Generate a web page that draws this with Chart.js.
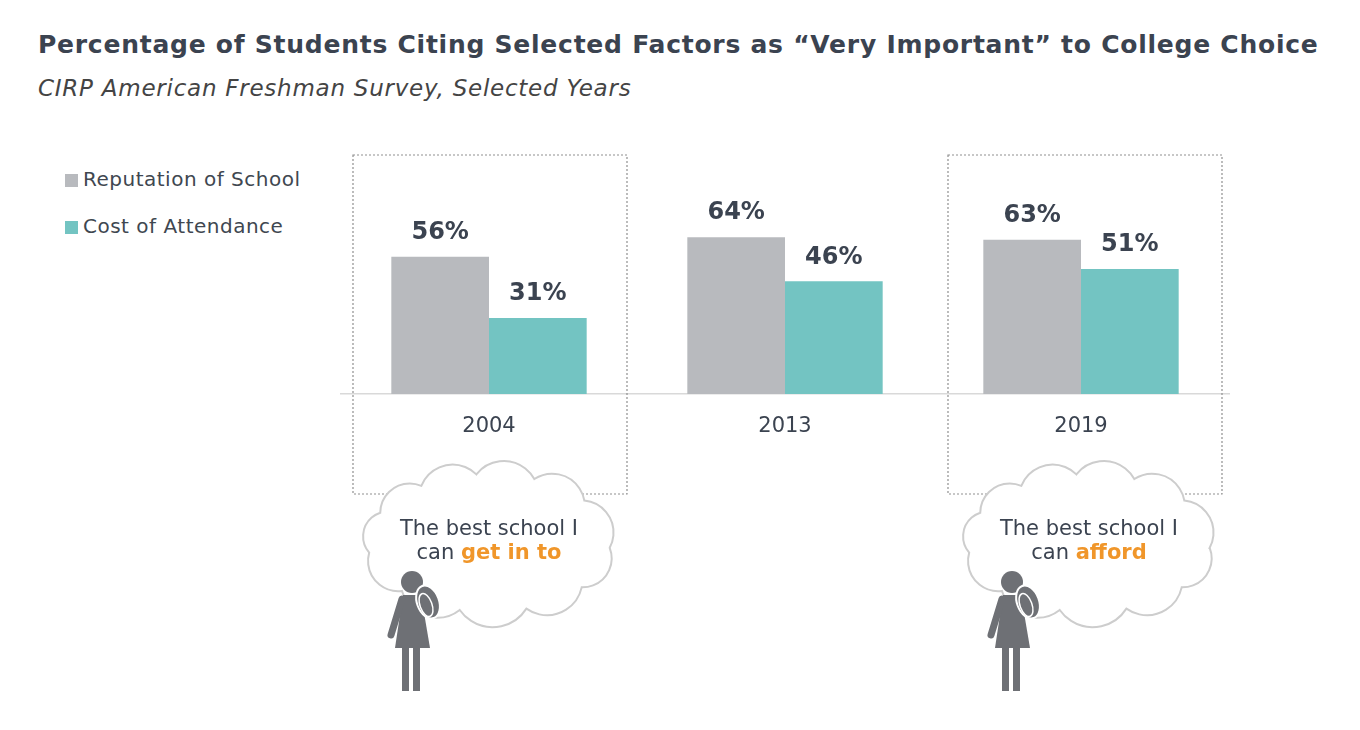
<!DOCTYPE html>
<html>
<head>
<meta charset="utf-8">
<script src="https://cdn.jsdelivr.net/npm/chart.js@4"></script>
<style>
  html, body { margin: 0; padding: 0; background: #fff; }
  body { width: 1360px; height: 730px; position: relative; overflow: hidden; font-family: "DejaVu Sans", Verdana, sans-serif; color: #3b4350; }
  .title { position: absolute; left: 38px; top: 30px; font-size: 25px; letter-spacing: 0.75px; font-weight: bold; white-space: nowrap; }
  .subtitle { position: absolute; left: 38px; top: 75px; font-size: 23px; letter-spacing: 0.75px; font-style: italic; color: #444; white-space: nowrap; }
  .legend { position: absolute; left: 65px; top: 167px; font-size: 20px; letter-spacing: 0.5px; color: #404750; }
  .legend div { height: 47px; display: flex; align-items: flex-start; }
  .legend span.sw { width: 13px; height: 13px; margin-top: 7px; margin-right: 5px; display: inline-block; }
  canvas { position: absolute; left: 0; top: 0; }
</style>
</head>
<body>
<div class="title">Percentage of Students Citing Selected Factors as “Very Important” to College Choice</div>
<div class="subtitle">CIRP American Freshman Survey, Selected Years</div>
<div class="legend" id="legend"></div>
<canvas id="chart" width="1360" height="730"></canvas>
<script>
// data
const years = ['2004', '2013', '2019'];
const reputation = [56, 64, 63];
const cost = [31, 46, 51];
const seriesNames = ['Reputation of School', 'Cost of Attendance'];
const seriesColors = ['#b8babe', '#73c4c2'];

// thought bubbles (index into years)
const bubbleIndex = [0, 2];
const bubbleLine1 = ['The best school I', 'The best school I'];
const bubbleLine2 = ['get in to', 'afford'];

const dark = '#3b4350';
const orange = '#f0962a';
const personGray = '#6e7075';

// legend
const legend = document.getElementById('legend');
seriesNames.forEach((name, i) => {
    const row = document.createElement('div');
    row.innerHTML = '<span class="sw" style="background:' + seriesColors[i] + '"></span>' + name;
    legend.appendChild(row);
});

// value labels on top of bars
const valueLabels = {
    id: 'valueLabels',
    afterDatasetsDraw(chart) {
        const ctx = chart.ctx;
        ctx.save();
        ctx.font = 'bold 24px "DejaVu Sans"';
        ctx.fillStyle = dark;
        ctx.textAlign = 'center';
        ctx.textBaseline = 'bottom';
        chart.data.datasets.forEach((ds, i) => {
            chart.getDatasetMeta(i).data.forEach((bar, j) => {
                ctx.fillText(ds.data[j] + '%', bar.x, bar.y - 12);
            });
        });
        ctx.restore();
    }
};

// dotted boxes behind the highlighted years
const dottedBoxes = {
    id: 'dottedBoxes',
    beforeDatasetsDraw(chart) {
        const ctx = chart.ctx;
        const x = chart.scales.x;
        ctx.save();
        ctx.strokeStyle = '#8f8f8f';
        ctx.lineWidth = 1.2;
        ctx.setLineDash([2, 2]);
        bubbleIndex.forEach((idx, k) => {
            const cx = x.getPixelForValue(idx) + (k === 0 ? 1 : 4);
            ctx.strokeRect(cx - 137, 155, 274, 339);
        });
        ctx.restore();
    }
};

// scalloped outline: shallow arcs between points on an ellipse
function cloudPath(ctx, cx, cy, rx, ry) {
    const angles = [4, 40, 72, 104, 136, 172, 206, 236, 264, 292, 322];
    const pts = angles.map(a => {
        const r = a * Math.PI / 180;
        return [cx + rx * Math.cos(r), cy + ry * Math.sin(r)];
    });
    ctx.beginPath();
    for (let i = 0; i < pts.length; i++) {
        const p = pts[i];
        const q = pts[(i + 1) % pts.length];
        const mx = (p[0] + q[0]) / 2;
        const my = (p[1] + q[1]) / 2;
        const L = Math.hypot(q[0] - p[0], q[1] - p[1]);
        // outward normal of the chord
        let nx = (q[1] - p[1]) / L;
        let ny = -(q[0] - p[0]) / L;
        if ((mx - cx) * nx + (my - cy) * ny < 0) { nx = -nx; ny = -ny; }
        const R = 0.6 * L;
        const d = Math.sqrt(R * R - L * L / 4);
        const ox = mx - nx * d;
        const oy = my - ny * d;
        const a0 = Math.atan2(p[1] - oy, p[0] - ox);
        const a1 = Math.atan2(q[1] - oy, q[0] - ox);
        ctx.arc(ox, oy, R, a0, a1, false);
    }
    ctx.closePath();
}

function drawPerson(ctx, hx, hy) {
    ctx.save();
    ctx.fillStyle = personGray;
    ctx.strokeStyle = personGray;
    // head
    ctx.beginPath();
    ctx.arc(hx, hy, 11, 0, Math.PI * 2);
    ctx.fill();
    // dress
    ctx.beginPath();
    ctx.moveTo(hx - 9, hy + 13);
    ctx.lineTo(hx + 9, hy + 13);
    ctx.lineTo(hx + 18, hy + 66);
    ctx.lineTo(hx - 17, hy + 66);
    ctx.closePath();
    ctx.fill();
    // arm
    ctx.lineWidth = 7;
    ctx.lineCap = 'round';
    ctx.beginPath();
    ctx.moveTo(hx - 10, hy + 17);
    ctx.lineTo(hx - 21, hy + 53);
    ctx.stroke();
    // legs
    ctx.fillRect(hx - 10, hy + 64, 7, 45);
    ctx.fillRect(hx + 1, hy + 64, 7, 45);
    // backpack
    ctx.beginPath();
    ctx.ellipse(hx + 16, hy + 20, 11, 17, -0.35, 0, Math.PI * 2);
    ctx.fill();
    ctx.strokeStyle = '#fff';
    ctx.lineWidth = 2;
    ctx.stroke();
    ctx.lineWidth = 1.5;
    ctx.beginPath();
    ctx.ellipse(hx + 14, hy + 23, 6, 12, -0.35, 0, Math.PI * 2);
    ctx.stroke();
    ctx.restore();
}

// thought bubbles with a student under each
const bubbles = {
    id: 'bubbles',
    afterDraw(chart) {
        const ctx = chart.ctx;
        const x = chart.scales.x;
        bubbleIndex.forEach((idx, k) => {
            const cx = x.getPixelForValue(idx) + (k === 0 ? 0 : 8);
            const cy = 543;
            ctx.save();
            cloudPath(ctx, cx, cy, 121, 69);
            ctx.fillStyle = '#fff';
            ctx.fill();
            ctx.strokeStyle = '#cdcdcd';
            ctx.lineWidth = 2;
            ctx.stroke();

            ctx.textBaseline = 'middle';
            ctx.font = '21px "DejaVu Sans"';
            ctx.fillStyle = dark;
            ctx.textAlign = 'center';
            ctx.fillText(bubbleLine1[k], cx, cy - 13);
            const pre = 'can ';
            const w1 = ctx.measureText(pre).width;
            ctx.font = 'bold 21px "DejaVu Sans"';
            const w2 = ctx.measureText(bubbleLine2[k]).width;
            const start = cx - (w1 + w2) / 2;
            ctx.textAlign = 'left';
            ctx.font = '21px "DejaVu Sans"';
            ctx.fillText(pre, start, cy + 11);
            ctx.font = 'bold 21px "DejaVu Sans"';
            ctx.fillStyle = orange;
            ctx.fillText(bubbleLine2[k], start + w1, cy + 11);
            ctx.restore();

            drawPerson(ctx, cx - 77, 582);
        });
    }
};

new Chart(document.getElementById('chart'), {
    type: 'bar',
    data: {
        labels: years,
        datasets: [
            { label: seriesNames[0], data: reputation, backgroundColor: seriesColors[0] },
            { label: seriesNames[1], data: cost, backgroundColor: seriesColors[1] }
        ]
    },
    options: {
        responsive: false,
        animation: false,
        layout: { padding: { left: 341, right: 131, top: 149, bottom: 0 } },
        datasets: { bar: { categoryPercentage: 0.66, barPercentage: 1 } },
        plugins: {
            legend: { display: false },
            tooltip: { enabled: false }
        },
        scales: {
            x: {
                grid: { display: false },
                border: { display: true, color: '#d9d9d9', width: 1.5 },
                ticks: { color: dark, font: { family: 'DejaVu Sans', size: 21 }, padding: 12 },
                afterFit(scale) { scale.height = 336; }
            },
            y: {
                display: false,
                min: 0,
                max: 100
            }
        }
    },
    plugins: [dottedBoxes, valueLabels, bubbles]
});
</script>
</body>
</html>
